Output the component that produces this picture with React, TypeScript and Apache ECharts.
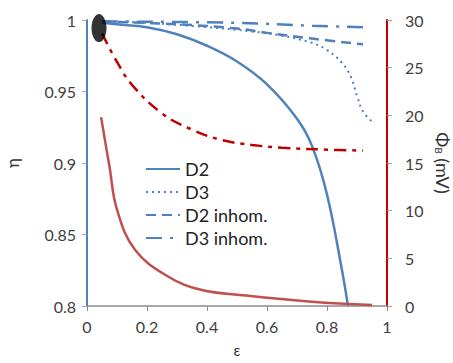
import React, { useEffect, useRef } from "react";
import * as echarts from "echarts";

const xTicks = [0, 0.2, 0.4, 0.6, 0.8, 1];
const etaTicks = [0.8, 0.85, 0.9, 0.95, 1];
const phiTicks = [0, 5, 10, 15, 20, 25, 30];

const d2: [number, number][] = [
  [0.05, 0.998], [0.1, 0.997], [0.2, 0.995], [0.3, 0.99], [0.4, 0.982], [0.5, 0.971],
  [0.6, 0.955], [0.7, 0.931], [0.75, 0.912], [0.8, 0.878], [0.85, 0.825], [0.87, 0.8],
];
const d3: [number, number][] = [
  [0.05, 0.999], [0.2, 0.998], [0.4, 0.995], [0.55, 0.992], [0.65, 0.989], [0.75, 0.984],
  [0.8, 0.979], [0.85, 0.97], [0.88, 0.96], [0.9, 0.947], [0.92, 0.936], [0.95, 0.929],
];
const d2inhom: [number, number][] = [
  [0.05, 0.999], [0.3, 0.997], [0.5, 0.994], [0.6, 0.991], [0.75, 0.987], [0.92, 0.983],
];
const d3inhom: [number, number][] = [
  [0.05, 0.999], [0.5, 0.998], [0.75, 0.996], [0.92, 0.995],
];
const phiInhom: [number, number][] = [
  [0.05, 28.6], [0.1, 25.6], [0.15, 23.2], [0.25, 20.2], [0.35, 18.5], [0.45, 17.4],
  [0.55, 16.9], [0.65, 16.6], [0.8, 16.4], [0.92, 16.3],
];
const phiHom: [number, number][] = [
  [0.047, 19.8], [0.075, 14.6], [0.1, 10.1], [0.16, 5.9], [0.27, 3.1], [0.38, 1.7],
  [0.53, 1.1], [0.75, 0.45], [0.95, 0.1],
];
const marker: [number, number][] = [[0.04, 0.9944]];

const BLUE = "#4f81bd";
const RED = "#c00000";
const FONT = "Lato";

export default function App() {
  const ref = useRef<HTMLDivElement>(null);
  useEffect(() => {
    const chart = echarts.init(ref.current!, null, { renderer: "svg" });
    chart.setOption({
      animation: false,
      textStyle: { fontFamily: FONT },
      grid: { left: 87, right: 66, top: 20, bottom: 57, containLabel: false, outerBoundsMode: "none" },
      legend: {
        data: ["D2", "D3", "D2 inhom.", "D3 inhom."],
        orient: "vertical",
        left: 140,
        top: 155,
        itemWidth: 34,
        itemHeight: 10,
        itemGap: 5,
        itemStyle: { opacity: 0 },
        textStyle: { fontFamily: FONT, fontSize: 18, color: "#222" },
      },
      xAxis: {
        type: "value",
        min: xTicks[0],
        max: xTicks[xTicks.length - 1],
        interval: 0.2,
        name: "ε",
        nameLocation: "middle",
        nameGap: 36,
        nameTextStyle: { fontSize: 15, color: "#333" },
        axisLine: { lineStyle: { color: "#8c8c8c", width: 1.5 } },
        axisTick: { show: true, length: 5, lineStyle: { color: "#8c8c8c" } },
        axisLabel: { fontSize: 16, color: "#404040", margin: 12, fontFamily: FONT },
        splitLine: { show: false },
      },
      yAxis: [
        {
          type: "value",
          min: etaTicks[0],
          max: etaTicks[etaTicks.length - 1],
          interval: 0.05,
          name: "η",
          nameLocation: "middle",
          nameGap: 66,
          nameRotate: 90,
          nameTextStyle: { fontSize: 17, color: "#333" },
          axisLine: { show: true, lineStyle: { color: BLUE, width: 2 } },
          axisTick: { show: true, length: 5, lineStyle: { color: "#8eaadb" } },
          axisLabel: { fontSize: 16, color: "#404040", margin: 11, fontFamily: FONT },
          splitLine: { show: false },
        },
        {
          type: "value",
          min: phiTicks[0],
          max: phiTicks[phiTicks.length - 1],
          interval: 5,
          position: "right",
          name: "{a|Φ}{b|B}{a| (mV)}",
          nameLocation: "middle",
          nameGap: 45,
          nameRotate: -90,
          nameTextStyle: {
            rich: {
              a: { fontSize: 18, color: "#333", fontFamily: FONT },
              b: { fontSize: 10, color: "#333", fontFamily: FONT, verticalAlign: "bottom", padding: [8, 0, 0, 0] },
            },
          },
          axisLine: { show: true, lineStyle: { color: RED, width: 2 } },
          axisTick: { show: true, length: 5, lineStyle: { color: "#d98c8c" } },
          axisLabel: { fontSize: 16, color: "#404040", margin: 18, fontFamily: FONT },
          splitLine: { show: false },
        },
      ],
      series: [
        {
          name: "D2", type: "line", data: d2, smooth: 0.4, symbol: "none",
          lineStyle: { color: BLUE, width: 2.5 }, itemStyle: { color: BLUE },
        },
        {
          name: "D3", type: "line", data: d3, smooth: 0.4, symbol: "none",
          lineStyle: { color: BLUE, width: 2, type: [2, 4] }, itemStyle: { color: BLUE },
        },
        {
          name: "D2 inhom.", type: "line", data: d2inhom, smooth: 0.4, symbol: "none",
          lineStyle: { color: BLUE, width: 2.5, type: [10, 6] }, itemStyle: { color: BLUE },
        },
        {
          name: "D3 inhom.", type: "line", data: d3inhom, smooth: 0.4, symbol: "none",
          lineStyle: { color: BLUE, width: 2.5, type: [16, 8, 3, 8] }, itemStyle: { color: BLUE },
        },
        {
          name: "Phi inhom", type: "line", yAxisIndex: 1, data: phiInhom, smooth: 0.4, symbol: "none",
          lineStyle: { color: RED, width: 2.5, type: [12, 6, 4, 6] },
        },
        {
          name: "Phi hom", type: "line", yAxisIndex: 1, data: phiHom, smooth: 0.4, symbol: "none",
          lineStyle: { color: "#c0504d", width: 2.5 },
        },
        {
          name: "marker", type: "scatter", data: marker, symbol: "circle", symbolSize: [15, 28],
          itemStyle: { color: "#000" }, z: 10,
        },
      ],
    });
    return () => chart.dispose();
  }, []);
  return (
    <div
      ref={ref}
      style={{ position: "absolute", left: 0, top: 0, width: 453, height: 363, background: "#fff" }}
    />
  );
}
